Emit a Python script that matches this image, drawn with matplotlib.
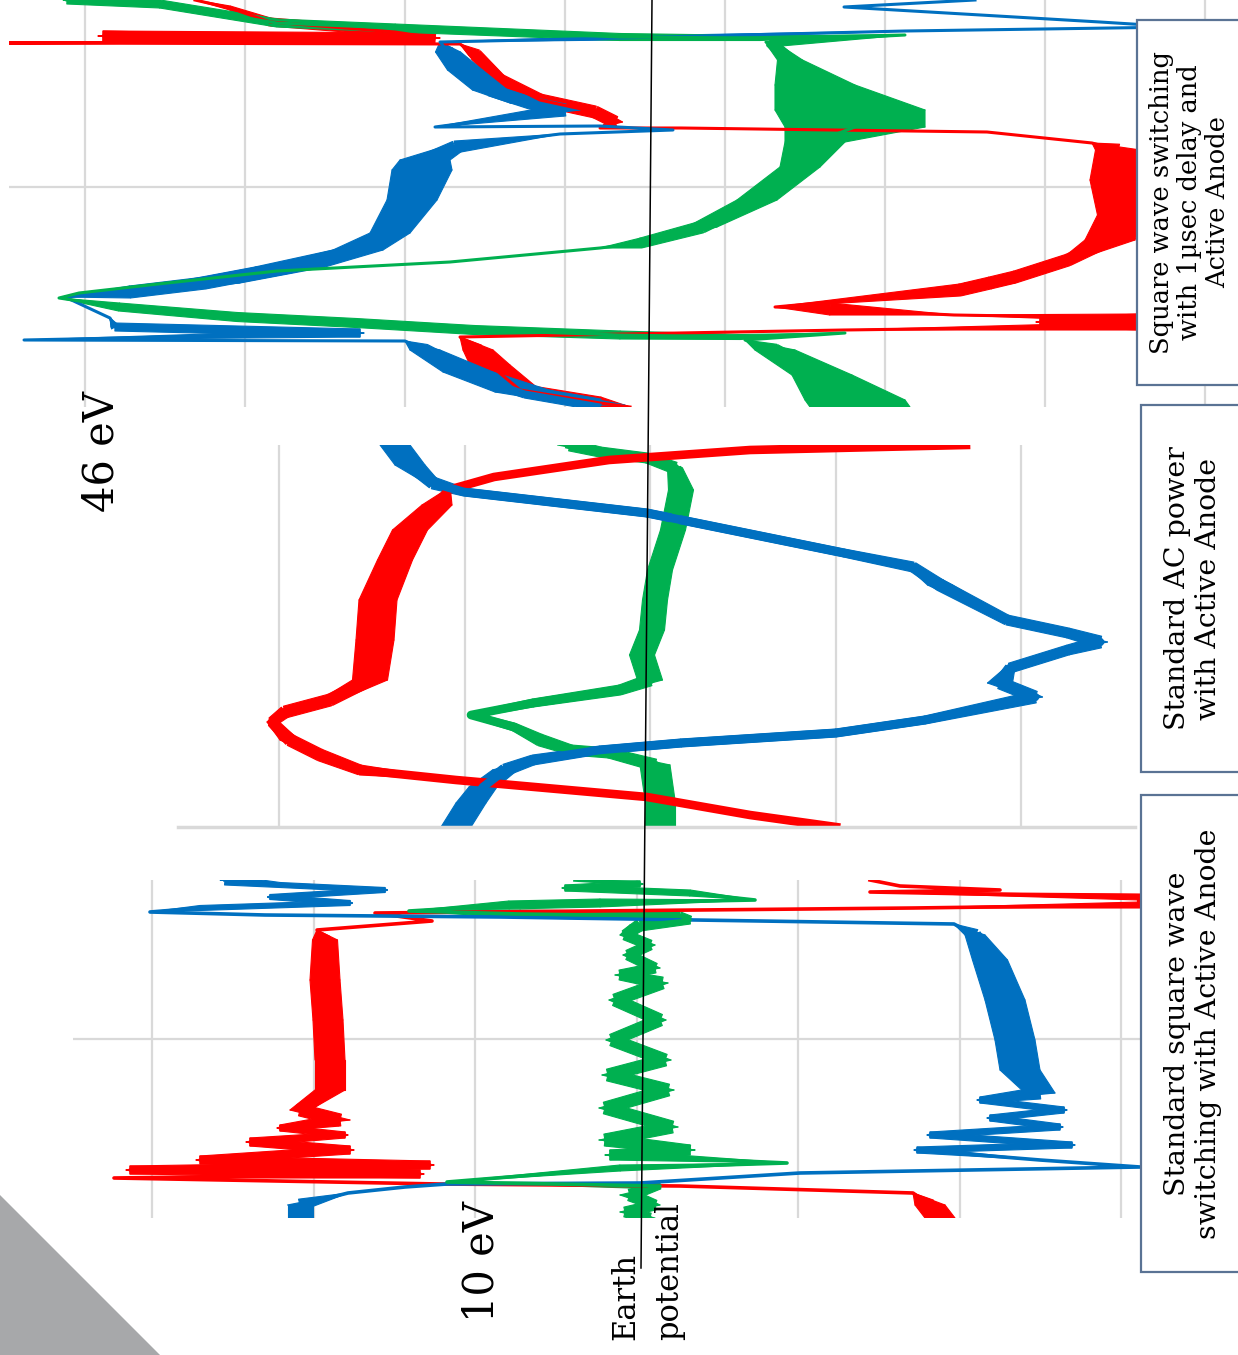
import math
import matplotlib
matplotlib.use('Agg')
import matplotlib.pyplot as plt
from matplotlib.collections import PolyCollection
from matplotlib.patches import Rectangle, Polygon
from matplotlib.lines import Line2D

W, H = 1238, 1355
RED, BLUE, GREEN = '#ff0000', '#0070c0', '#00b050'
GRID = '#d9d9d9'
BOXEDGE = '#5a7394'

# traces: (voltage, time, noise spread), screen units
top_red = [(195, 0, 0), (230, 8, 4), (270, 22, 8), (395, 32, 8), (435, 38, 10), (103, 36, 10),
           (430, 41, 6), (9, 43, 0), (460, 44, 0), (476, 55, 15), (500, 80, 15), (540, 100, 20),
           (595, 112, 20), (615, 122, 15), (600, 128, 0), (681, 128, 0), (987, 132, 0),
           (1092, 143, 0), (1118, 150, 45), (1115, 180, 50), (1120, 215, 45), (1110, 240, 50),
           (1068, 260, 15), (1015, 277, 15), (990, 283, 50), (960, 290, 30), (775, 307, 0),
           (830, 309, 30), (954, 315, 0), (1140, 318, 8), (1040, 322, 8), (1140, 326, 8),
           (844, 330, 0), (460, 337, 0), (478, 350, 30), (490, 365, 40), (520, 390, 40),
           (600, 403, 30), (630, 407, 0)]
top_blue = [(975, 0, 0), (844, 7, 0), (1100, 22, 0), (1180, 27, 0), (905, 31, 0), (620, 38, 4),
            (440, 42, 0), (448, 52, 25), (465, 70, 35), (490, 90, 35), (530, 103, 40),
            (565, 110, 30), (435, 127, 0), (600, 126, 0), (673, 130, 0), (560, 134, 0),
            (455, 147, 25), (425, 160, 50), (422, 170, 60), (412, 200, 50), (390, 233, 40),
            (358, 250, 50), (290, 267, 70), (205, 283, 70), (130, 292, 50), (65, 297, 0),
            (110, 318, 0), (115, 327, 8), (360, 333, 8), (24, 340, 0), (405, 341, 0),
            (425, 350, 30), (468, 372, 50), (525, 392, 60), (600, 405, 50)]
top_green = [(67, 0, 8), (160, 4, 8), (277, 23, 8), (395, 28, 8), (620, 37, 7), (760, 38, 5),
             (905, 35, 0), (770, 42, 10), (790, 60, 25), (815, 85, 80), (850, 110, 150),
             (855, 127, 140), (815, 142, 60), (800, 167, 40), (757, 200, 40), (702, 227, 30),
             (641, 243, 10), (600, 248, 0), (450, 262, 0), (277, 271, 0), (158, 284, 0),
             (79, 293, 0), (59, 298, 0), (119, 307, 8), (237, 317, 9), (356, 323, 9),
             (474, 330, 9), (620, 335, 8), (740, 337, 5), (845, 333, 0), (745, 340, 0),
             (775, 350, 40), (822, 375, 60), (855, 400, 100), (860, 407, 100)]

mid_red = [(966, 445, 0), (750, 450, 0), (609, 460, 0), (494, 477, 0), (448, 490, 5),
           (437, 505, 30), (410, 530, 35), (395, 560, 35), (378, 600, 38), (375, 640, 38),
           (370, 680, 35), (330, 700, 20), (285, 712, 15), (272, 722, 10), (290, 740, 20),
           (320, 755, 20), (360, 770, 10), (456, 780, 0), (647, 797, 0), (750, 815, 5),
           (836, 827, 5)]
mid_blue = [(395, 445, 30), (410, 465, 30), (433, 483, 15), (464, 492, 8), (647, 513, 8),
            (844, 553, 8), (913, 567, 10), (940, 585, 25), (1007, 620, 10), (1068, 633, 10),
            (1100, 642, 15), (1068, 650, 10), (1010, 668, 10), (1000, 683, 25), (1035, 697, 15),
            (925, 720, 8), (836, 733, 8), (681, 743, 8), (600, 750, 8), (533, 760, 10),
            (505, 770, 25), (483, 787, 28), (471, 803, 30), (456, 827, 30)]
mid_green = [(570, 445, 25), (600, 452, 10), (647, 458, 10), (675, 468, 15), (681, 490, 25),
             (673, 530, 25), (660, 570, 25), (655, 600, 25), (652, 630, 25), (642, 655, 25),
             (650, 680, 25), (620, 690, 10), (533, 703, 8), (471, 715, 5), (514, 727, 8),
             (540, 740, 20), (571, 750, 10), (609, 753, 10), (655, 765, 30), (660, 800, 30),
             (660, 827, 30)]

bot_red = [(870, 880, 0), (900, 886, 0), (1000, 890, 0), (870, 892, 0), (1140, 897, 6),
           (1140, 905, 6), (913, 908, 0), (375, 913, 0), (432, 921, 0), (317, 930, 0),
           (325, 940, 25), (325, 980, 30), (328, 1020, 30), (330, 1060, 30), (330, 1090, 30),
           (300, 1110, 20), (340, 1120, 20), (280, 1128, 6), (345, 1135, 6), (250, 1142, 8),
           (350, 1150, 8), (200, 1160, 8), (430, 1165, 8), (130, 1170, 8), (420, 1174, 8),
           (114, 1178, 0), (440, 1184, 0), (680, 1186, 0), (913, 1193, 0), (930, 1205, 30),
           (940, 1218, 30)]
bot_blue = [(225, 880, 10), (280, 885, 5), (385, 890, 5), (270, 897, 5), (350, 903, 5),
            (200, 908, 5), (150, 912, 0), (265, 915, 0), (501, 917, 0), (954, 924, 0),
            (975, 935, 20), (990, 960, 35), (1005, 1000, 40), (1015, 1040, 40), (1020, 1070, 40),
            (1040, 1093, 30), (980, 1100, 6), (1064, 1110, 6), (990, 1118, 6), (1060, 1127, 6),
            (930, 1135, 6), (1072, 1145, 6), (917, 1150, 6), (1040, 1160, 0), (1140, 1167, 0),
            (800, 1173, 0), (640, 1183, 0), (447, 1184, 0), (405, 1187, 0), (348, 1193, 0),
            (300, 1205, 25), (300, 1218, 25)]
bot_green = [(575, 880, 0), (640, 884, 6), (565, 888, 6), (690, 893, 6), (755, 900, 0),
             (600, 903, 8), (509, 905, 8), (409, 911, 0), (520, 914, 8), (680, 916, 8),
             (690, 920, 8), (640, 925, 20), (625, 935, 10), (650, 945, 10), (628, 955, 10),
             (655, 968, 10), (620, 975, 10), (662, 983, 12), (615, 1000, 12), (660, 1020, 12),
             (612, 1040, 12), (665, 1060, 12), (608, 1075, 12), (668, 1090, 12), (605, 1108, 12),
             (672, 1127, 12), (605, 1140, 12), (690, 1150, 10), (610, 1155, 10), (787, 1163, 0),
             (620, 1168, 6), (447, 1182, 0), (660, 1186, 6), (630, 1195, 20), (655, 1205, 10),
             (625, 1212, 10), (650, 1218, 10)]

labels = ['Square wave switching\nwith 1\u00b5sec delay and\nActive Anode',
          'Standard AC power\nwith Active Anode',
          'Standard square wave\nswitching with Active Anode']

fig = plt.figure(figsize=(W / 100, H / 100), dpi=100)
fig.patch.set_facecolor('white')


def panel(x0, y0, x1, y1, xgrid, ygrid):
    ax = fig.add_axes([x0 / W, 1 - y1 / H, (x1 - x0) / W, (y1 - y0) / H])
    ax.set_xlim(x0, x1)
    ax.set_ylim(y1, y0)
    ax.set_xticks(xgrid)
    ax.set_yticks(ygrid)
    ax.grid(True, color=GRID, lw=1.6)
    ax.set_axisbelow(True)
    ax.tick_params(length=0, labelbottom=False, labelleft=False)
    for s in ax.spines.values():
        s.set_visible(False)
    ax.patch.set_alpha(0)
    return ax


def trace(ax, pts, colour, lw):
    quads = []
    for (xa, ya, wa), (xb, yb, wb) in zip(pts[:-1], pts[1:]):
        if wa == 0 and wb == 0:
            continue
        # spread across the voltage axis (noise)
        quads.append([(xa - wa / 2, ya), (xb - wb / 2, yb), (xb + wb / 2, yb), (xa + wa / 2, ya)])
        # same spread, capped, across the segment itself
        L = math.hypot(xb - xa, yb - ya) or 1.0
        nx, ny = -(yb - ya) / L, (xb - xa) / L
        ta, tb = min(wa, 12) / 2, min(wb, 12) / 2
        quads.append([(xa + nx * ta, ya + ny * ta), (xb + nx * tb, yb + ny * tb),
                      (xb - nx * tb, yb - ny * tb), (xa - nx * ta, ya - ny * ta)])
    ax.add_collection(PolyCollection(quads, facecolors=colour, edgecolors=colour, linewidths=0.8))
    ax.plot([p[0] for p in pts], [p[1] for p in pts], color=colour, lw=lw, solid_joinstyle='round')


top = panel(9, 0, 1238, 407, [85, 245, 405, 565, 725, 885, 1045, 1205], [187])
for pts, c in [(top_red, RED), (top_blue, BLUE), (top_green, GREEN)]:
    trace(top, pts, c, 2.2)

mid = panel(178, 445, 1135, 827, [279, 465, 650, 836, 1021], [])
mid.spines['bottom'].set_visible(True)
mid.spines['bottom'].set_color(GRID)
mid.spines['bottom'].set_linewidth(2.5)
for pts, c in [(mid_green, GREEN), (mid_red, RED), (mid_blue, BLUE)]:
    trace(mid, pts, c, 6.2)

bot = panel(73, 880, 1140, 1218, [152, 313.5, 475, 636.5, 798, 959.5, 1121], [1039])
for pts, c in [(bot_red, RED), (bot_blue, BLUE), (bot_green, GREEN)]:
    trace(bot, pts, c, 2.6)

# grey corner triangle
fig.add_artist(Polygon([(0, 1 - 1195 / H), (0, 0), (160 / W, 0)], closed=True,
                       transform=fig.transFigure, facecolor='#a7a8aa', edgecolor='none'))

# earth potential reference line
fig.add_artist(Line2D([652 / W, 641 / W], [1, 1 - 1268 / H], transform=fig.transFigure,
                      color='black', lw=1.1))

# caption boxes
for (bx, by0, by1), txt, fs, tx in zip([(1137, 20, 385), (1141, 405, 772), (1141, 795, 1272)],
                                       labels, [18.5, 20.5, 20.5], [1190, 1193, 1193]):
    fig.add_artist(Rectangle((bx / W, 1 - by1 / H), (W + 10 - bx) / W, (by1 - by0) / H,
                             transform=fig.transFigure, facecolor='white',
                             edgecolor=BOXEDGE, lw=1.6))
    fig.text(tx / W, 1 - (by0 + by1) / 2 / H, txt, rotation=90, ha='center', va='center',
             multialignment='center', fontsize=fs, family='DejaVu Serif', linespacing=1.15)

fig.text(102 / W, 1 - 452 / H, '46 eV', rotation=90, ha='center', va='center',
         fontsize=30, family='DejaVu Serif')
fig.text(482 / W, 1 - 1262 / H, '10 eV', rotation=90, ha='center', va='center',
         fontsize=30, family='DejaVu Serif')
fig.text(626 / W, 1 - 1340 / H, 'Earth', rotation=90, ha='center', va='bottom',
         fontsize=22, family='DejaVu Serif')
fig.text(670 / W, 1 - 1340 / H, 'potential', rotation=90, ha='center', va='bottom',
         fontsize=22, family='DejaVu Serif')

fig.savefig('out.png', dpi=100)
